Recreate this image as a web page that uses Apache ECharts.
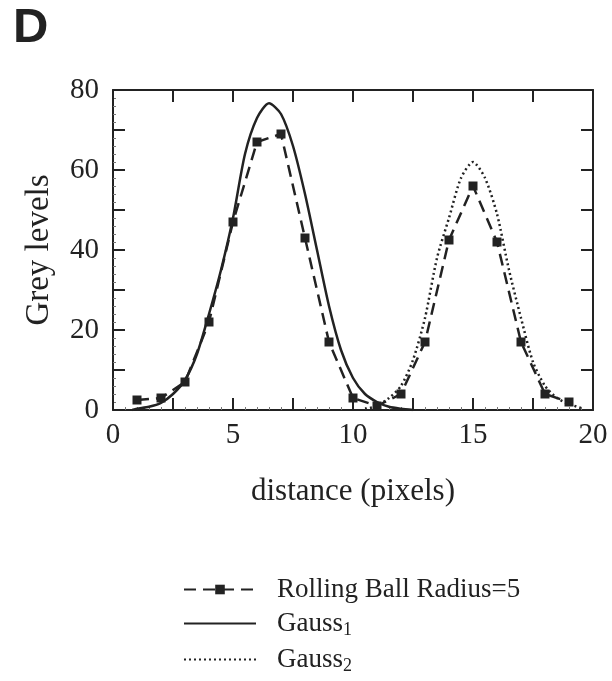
<!DOCTYPE html>
<html>
<head>
<meta charset="utf-8">
<script src="https://cdn.jsdelivr.net/npm/echarts@6/dist/echarts.min.js"></script>
<style>
  html, body { margin: 0; padding: 0; background: #fff; }
  #chart { width: 612px; height: 681px; }
</style>
</head>
<body>
<div id="chart"></div>
<script>
// Rolling ball profile (measured points)
const rollX = [1, 2, 3, 4, 5, 6, 7, 8, 9, 10, 11, 12, 13, 14, 15, 16, 17, 18, 19];
const rollY = [2.5, 3, 7, 22, 47, 67, 69, 43, 17, 3, 1, 4, 17, 42.5, 56, 42, 17, 4, 2];

// Gauss1 fit
const gauss1X = [0.8, 1, 1.5, 2, 2.5, 3, 3.5, 4, 4.5, 5, 5.5, 6, 6.5, 7, 7.5, 8, 8.5, 9, 9.5, 10, 10.5, 11, 11.5, 12, 12.5];
const gauss1Y = [0, 0.3, 0.8, 1.8, 4, 7.5, 14, 24, 35, 48, 64, 73, 76.7, 74, 66, 54, 40, 26, 15, 8, 4, 2, 0.8, 0.3, 0];

// Gauss2 fit
const gauss2X = [10.5, 11, 11.5, 12, 12.5, 13, 13.5, 14, 14.5, 15, 15.5, 16, 16.5, 17, 17.5, 18, 18.5, 19, 19.5];
const gauss2Y = [0.3, 1, 3, 6, 12.5, 23, 38, 48, 58, 62, 58, 49, 35, 23, 12, 6, 3, 1.5, 0.5];

const xLabels = [0, 5, 10, 15, 20];
const yLabels = [0, 20, 40, 60, 80];

const zip = (xs, ys) => xs.map((x, i) => [x, ys[i]]);

const ink = '#222';
const serif = 'Liberation Serif';

const chart = echarts.init(document.getElementById('chart'));

const axisCommon = {
  axisLine: { show: true, onZero: false, lineStyle: { color: ink, width: 2 } },
  axisTick: { show: true, inside: true, length: 12, lineStyle: { color: ink, width: 2 } },
  minorTick: { show: true, splitNumber: 5, length: 3, lineStyle: { color: '#777', width: 1 } },
  splitLine: { show: false }
};

chart.setOption({
  animation: false,
  backgroundColor: '#fff',
  title: {
    text: 'D',
    left: 13,
    top: 4,
    padding: 0,
    textStyle: { fontFamily: 'Liberation Sans', fontWeight: 'bold', fontSize: 49, color: ink }
  },
  grid: { left: 113, top: 90, width: 480, height: 320 },
  xAxis: [
    Object.assign({}, axisCommon, {
      type: 'value', position: 'bottom', min: 0, max: 20, interval: 2.5,
      name: 'distance (pixels)', nameLocation: 'middle', nameGap: 66,
      nameTextStyle: { fontFamily: serif, fontSize: 31, color: ink },
      axisLabel: {
        margin: 11, fontFamily: serif, fontSize: 29, color: ink,
        formatter: v => (xLabels.indexOf(v) >= 0 ? String(v) : '')
      }
    }),
    Object.assign({}, axisCommon, {
      type: 'value', position: 'top', min: 0, max: 20, interval: 2.5,
      minorTick: { show: false },
      axisLabel: { show: false }
    })
  ],
  yAxis: [
    Object.assign({}, axisCommon, {
      type: 'value', position: 'left', min: 0, max: 80, interval: 10,
      name: 'Grey levels', nameLocation: 'middle', nameGap: 57,
      nameTextStyle: { fontFamily: serif, fontSize: 33, color: ink },
      axisLabel: {
        margin: 14, fontFamily: serif, fontSize: 29, color: ink,
        formatter: v => (yLabels.indexOf(v) >= 0 ? String(v) : '')
      }
    }),
    Object.assign({}, axisCommon, {
      type: 'value', position: 'right', min: 0, max: 80, interval: 10,
      minorTick: { show: false },
      axisLabel: { show: false }
    })
  ],
  legend: {
    orient: 'vertical',
    left: 183,
    top: 576,
    padding: 0,
    itemWidth: 72,
    itemHeight: 12,
    itemGap: 7,
    textStyle: {
      fontFamily: serif, fontSize: 27, color: ink,
      rich: {
        g: { width: 16 },
        t: { fontFamily: serif, fontSize: 27, color: ink },
        s: { fontFamily: serif, fontSize: 18, color: ink, padding: [13, 0, 0, 0] }
      }
    },
    formatter: name => {
      if (name === 'Gauss1') return '{g|}{t|Gauss}{s|1}';
      if (name === 'Gauss2') return '{g|}{t|Gauss}{s|2}';
      return '{g|}{t|' + name + '}';
    },
    data: [
      { name: 'Rolling Ball Radius=5' },
      { name: 'Gauss1', itemStyle: { opacity: 0 } },
      { name: 'Gauss2', itemStyle: { opacity: 0 } }
    ]
  },
  series: [
    {
      name: 'Rolling Ball Radius=5',
      type: 'line',
      data: zip(rollX, rollY),
      symbol: 'rect',
      symbolSize: 9,
      itemStyle: { color: ink },
      lineStyle: { color: ink, width: 2.5, type: [12, 7] },
      z: 3
    },
    {
      name: 'Gauss1',
      type: 'line',
      data: zip(gauss1X, gauss1Y),
      symbol: 'none',
      smooth: 0.25,
      itemStyle: { color: ink },
      lineStyle: { color: ink, width: 2.5, type: 'solid' }
    },
    {
      name: 'Gauss2',
      type: 'line',
      data: zip(gauss2X, gauss2Y),
      symbol: 'none',
      smooth: 0.25,
      itemStyle: { color: ink },
      lineStyle: { color: ink, width: 2.5, type: [2, 3] }
    }
  ]
});
</script>
</body>
</html>
